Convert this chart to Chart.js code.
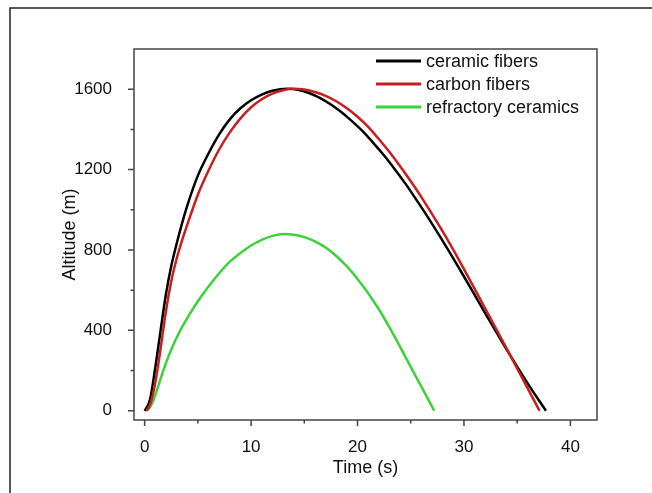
<!DOCTYPE html>
<html>
<head>
<meta charset="utf-8">
<script src="https://cdn.jsdelivr.net/npm/chart.js@4/dist/chart.umd.min.js"></script>
<style>
  html, body { margin: 0; padding: 0; background: #fff; }
</style>
</head>
<body>
<canvas id="chart" width="652" height="493"></canvas>
<script>
// values: time (s) and altitude (m)
const ceramicTime = [0, 0.5, 1.0, 1.5, 2.0, 2.5, 3.0, 3.5, 4.0, 5.0, 6.0, 7.0, 8.0, 9.0, 10.0, 11.0, 12.0, 13.4, 14.5, 15.5, 16.5, 17.5, 18.5, 19.5, 20.5, 21.5, 22.5, 23.5, 24.5, 25.5, 26.5, 28.0, 30.0, 32.0, 34.0, 36.0, 37.7];
const ceramicAlt = [0, 55, 215, 400, 580, 720, 830, 930, 1020, 1170, 1280, 1375, 1450, 1505, 1545, 1573, 1592, 1602, 1596, 1580, 1556, 1524, 1485, 1440, 1390, 1332, 1270, 1202, 1130, 1052, 972, 845, 668, 485, 305, 135, 0];

const carbonTime = [0.2, 0.6, 1.0, 1.5, 2.0, 2.5, 3.0, 3.5, 4.0, 5.0, 6.0, 7.0, 8.0, 9.0, 10.0, 11.0, 12.0, 13.0, 14.0, 15.0, 16.0, 17.0, 18.0, 19.0, 20.0, 21.0, 22.0, 23.0, 24.0, 25.0, 26.0, 28.0, 30.0, 32.0, 34.0, 36.0, 37.1];
const carbonAlt = [0, 45, 140, 310, 495, 645, 755, 845, 925, 1075, 1195, 1300, 1385, 1455, 1510, 1550, 1578, 1595, 1602, 1598, 1586, 1567, 1540, 1505, 1463, 1413, 1352, 1287, 1217, 1142, 1063, 892, 705, 508, 310, 110, 0];

const refractoryTime = [0, 0.4, 0.8, 1.2, 1.75, 2.5, 3.3, 4.2, 5.0, 6.0, 7.0, 8.0, 9.0, 10.0, 11.0, 12.0, 13.1, 14.2, 15.0, 16.0, 17.0, 18.0, 19.0, 20.0, 21.0, 22.0, 23.0, 24.0, 25.0, 26.0, 27.2];
const refractoryAlt = [0, 10, 50, 110, 200, 305, 395, 478, 545, 618, 684, 742, 785, 822, 850, 870, 880, 874, 864, 843, 812, 770, 718, 656, 585, 505, 415, 318, 218, 120, 0];

const seriesNames = ['ceramic fibers', 'carbon fibers', 'refractory ceramics'];

const xTicks = [0, 10, 20, 30, 40];
const xMinorTicks = [5, 15, 25, 35];
const yTicks = [0, 400, 800, 1200, 1600];
const yMinorTicks = [200, 600, 1000, 1400];

const FONT = "'Liberation Sans', Arial, sans-serif";

function toPoints(xs, ys) {
  return xs.map((x, i) => ({ x: x, y: ys[i] }));
}

// box around the plot, ticks pointing out, and the page border
const framePlugin = {
  id: 'frame',
  afterDraw(chart) {
    const ctx = chart.ctx;
    const a = chart.chartArea;
    const xs = chart.scales.x;
    const ys = chart.scales.y;
    ctx.save();

    ctx.strokeStyle = '#222';
    ctx.lineWidth = 1.5;
    ctx.beginPath();
    ctx.moveTo(10, 493);
    ctx.lineTo(10, 8);
    ctx.lineTo(652, 8);
    ctx.stroke();

    ctx.strokeStyle = '#444';
    ctx.lineWidth = 1.5;
    ctx.strokeRect(a.left, a.top, a.right - a.left, a.bottom - a.top);

    ctx.beginPath();
    xTicks.forEach(v => {
      const px = xs.getPixelForValue(v);
      ctx.moveTo(px, a.bottom);
      ctx.lineTo(px, a.bottom + 6);
    });
    xMinorTicks.forEach(v => {
      const px = xs.getPixelForValue(v);
      ctx.moveTo(px, a.bottom);
      ctx.lineTo(px, a.bottom + 3.5);
    });
    yTicks.forEach(v => {
      const py = ys.getPixelForValue(v);
      ctx.moveTo(a.left, py);
      ctx.lineTo(a.left - 6, py);
    });
    yMinorTicks.forEach(v => {
      const py = ys.getPixelForValue(v);
      ctx.moveTo(a.left, py);
      ctx.lineTo(a.left - 3.5, py);
    });
    ctx.stroke();
    ctx.restore();
  }
};

// legend in the top right corner of the plot
const legendPlugin = {
  id: 'innerLegend',
  afterDraw(chart) {
    const ctx = chart.ctx;
    ctx.save();
    ctx.font = '18px ' + FONT;
    ctx.textBaseline = 'middle';
    ctx.fillStyle = '#111';
    chart.data.datasets.forEach((ds, i) => {
      const y = 61 + i * 23;
      ctx.strokeStyle = ds.borderColor;
      ctx.lineWidth = 3;
      ctx.beginPath();
      ctx.moveTo(376, y);
      ctx.lineTo(421, y);
      ctx.stroke();
      ctx.fillText(ds.label, 426, y + 1);
    });
    ctx.restore();
  }
};

const ctx = document.getElementById('chart').getContext('2d');

const chart = new Chart(ctx, {
  type: 'line',
  data: {
    datasets: [{
      label: seriesNames[0],
      data: toPoints(ceramicTime, ceramicAlt),
      borderColor: '#000000',
      order: 2
    }, {
      label: seriesNames[1],
      data: toPoints(carbonTime, carbonAlt),
      borderColor: '#c81e1e',
      order: 1
    }, {
      label: seriesNames[2],
      data: toPoints(refractoryTime, refractoryAlt),
      borderColor: '#3cd23c',
      order: 3
    }]
  },
  options: {
    responsive: false,
    animation: false,
    devicePixelRatio: 1,
    layout: { padding: { top: 49, right: 55, left: 0, bottom: 0 } },
    elements: {
      line: { borderWidth: 2.5, fill: false, cubicInterpolationMode: 'monotone' },
      point: { radius: 0, hoverRadius: 0 }
    },
    plugins: {
      legend: { display: false },
      tooltip: { enabled: false }
    },
    scales: {
      x: {
        type: 'linear',
        min: -1,
        max: 42.5,
        grid: { display: false },
        border: { display: false },
        afterBuildTicks: s => { s.ticks = xTicks.map(v => ({ value: v })); },
        afterFit: s => { s.height = 73; },
        ticks: {
          padding: 9, color: '#111', font: { family: FONT, size: 17 },
          callback: v => String(v)
        },
        title: {
          display: true,
          text: 'Time (s)',
          color: '#111',
          font: { family: FONT, size: 18 },
          padding: { top: 0, bottom: 14 }
        }
      },
      y: {
        type: 'linear',
        min: -46,
        max: 1800,
        grid: { display: false },
        border: { display: false },
        afterBuildTicks: s => { s.ticks = yTicks.map(v => ({ value: v })); },
        afterFit: s => { s.width = 134; },
        ticks: {
          padding: 14, color: '#111', font: { family: FONT, size: 17 },
          callback: v => String(v)
        },
        title: {
          display: true,
          text: 'Altitude (m)',
          color: '#111',
          font: { family: FONT, size: 18 },
          padding: { top: 59, bottom: 0 }
        }
      }
    }
  },
  plugins: [framePlugin, legendPlugin]
});
</script>
</body>
</html>
